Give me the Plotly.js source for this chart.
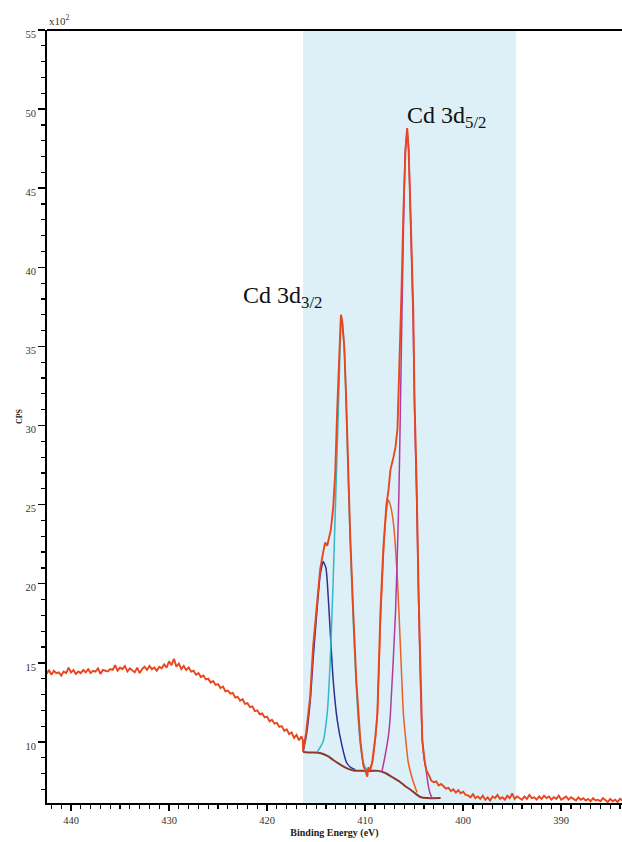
<!DOCTYPE html>
<html>
<head>
<meta charset="utf-8">
<script src="https://cdn.plot.ly/plotly-3.0.1.min.js"></script>
<style>html,body{margin:0;padding:0;background:#fff;}#chart{width:622px;height:842px;}</style>
</head>
<body>
<div id="chart"></div>
<script>
// Binding energy (eV) and counts (x10^2 CPS)
const envelopeX = [
442.50,442.25,442.00,441.75,441.50,441.25,441.00,440.75,440.50,440.25,440.00,439.75,439.50,439.25,439.00,438.75,438.50,438.25,438.00,437.75,
437.50,437.25,437.00,436.75,436.50,436.25,436.00,435.75,435.50,435.25,435.00,434.75,434.50,434.25,434.00,433.75,433.50,433.25,433.00,432.75,
432.50,432.25,432.00,431.75,431.50,431.25,431.00,430.75,430.50,430.25,430.00,429.75,429.50,429.25,429.00,428.75,428.50,428.25,428.00,427.75,
427.50,427.25,427.00,426.75,426.50,426.25,426.00,425.75,425.50,425.25,425.00,424.75,424.50,424.25,424.00,423.75,423.50,423.25,423.00,422.75,
422.50,422.25,422.00,421.75,421.50,421.25,421.00,420.75,420.50,420.25,420.00,419.75,419.50,419.25,419.00,418.75,418.50,418.25,418.00,417.75,
417.50,417.25,417.00,416.75,416.50,416.35,416.33,
416.02,415.61,415.31,414.90,414.59,414.28,414.08,413.87,413.67,413.50,413.26,413.05,412.85,412.64,412.47,412.34,412.13,411.93,411.72,411.52,
411.21,410.90,410.49,410.18,409.98,409.78,409.67,409.47,409.26,408.96,408.75,408.44,408.14,407.83,407.62,407.42,407.11,406.91,406.70,406.50,
406.29,406.09,405.88,405.71,405.57,405.37,405.09,404.96,404.75,404.55,404.34,404.17,403.93,403.75,403.50,403.25,403.00,402.75,402.50,402.25,
402.00,401.75,401.50,401.25,401.00,400.75,400.50,400.25,400.00,399.75,
399.50,399.25,399.00,398.75,398.50,398.25,398.00,397.75,397.50,397.25,397.00,396.75,396.50,396.25,396.00,395.75,395.50,395.25,395.00,394.75,
394.50,394.25,394.00,393.75,393.50,393.25,393.00,392.75,392.50,392.25,392.00,391.75,391.50,391.25,391.00,390.75,390.50,390.25,390.00,389.75,
389.50,389.25,389.00,388.75,388.50,388.25,388.00,387.75,387.50,387.25,387.00,386.75,386.50,386.25,386.00,385.75,385.50,385.25,385.00,384.75,
384.50,384.25,384.00,383.75
];
const envelopeY = [
14.30,14.55,14.25,14.50,14.35,14.40,14.20,14.45,14.35,14.70,14.40,14.55,14.30,14.45,14.35,14.55,14.40,14.60,14.35,14.50,
14.45,14.65,14.30,14.55,14.50,14.45,14.60,14.55,14.85,14.50,14.70,14.60,14.80,14.45,14.65,14.55,14.40,14.70,14.35,14.60,
14.75,14.55,14.80,14.60,14.70,14.50,14.75,14.65,14.90,14.70,15.10,14.85,15.25,14.75,14.95,14.60,14.80,14.55,14.70,14.45,
14.50,14.25,14.35,14.10,14.20,13.95,14.00,13.75,13.85,13.60,13.65,13.40,13.50,13.20,13.25,13.05,13.10,12.80,12.85,12.60,
12.70,12.40,12.45,12.20,12.25,11.95,12.00,11.75,11.80,11.55,11.60,11.30,11.40,11.15,11.20,10.95,11.00,10.70,10.80,10.50,
10.60,10.25,10.45,10.10,10.35,10.10,9.40,
10.6,12.85,16.0,18.8,20.9,22.0,22.6,22.4,22.9,23.4,24.8,27.0,31.0,35.0,37.0,36.6,35.0,31.6,27.0,23.0,
18.2,13.9,10.1,8.5,8.2,7.8,8.4,8.2,8.8,10.3,11.8,18.2,22.3,25.0,25.9,27.2,28.0,28.6,29.8,33.7,
38.5,43.7,47.5,48.8,47.5,43.5,37.3,31.6,26.4,19.5,13.5,10.1,8.8,8.2,7.9,7.55,7.45,7.50,7.25,7.35,
7.20,7.05,7.10,6.90,7.00,6.80,6.95,6.75,6.85,6.65,
6.62,6.50,6.70,6.45,6.55,6.40,6.60,6.35,6.50,6.30,6.55,6.45,6.65,6.40,6.50,6.35,6.60,6.45,6.75,6.40,
6.55,6.45,6.35,6.55,6.40,6.65,6.45,6.50,6.35,6.55,6.40,6.60,6.45,6.55,6.35,6.50,6.40,6.60,6.35,6.45,
6.55,6.35,6.50,6.40,6.30,6.50,6.35,6.45,6.30,6.40,6.25,6.45,6.30,6.35,6.25,6.45,6.30,6.20,6.40,6.25,
6.35,6.20,6.40,6.30
];

const backgroundX = [416.33,415.50,414.60,413.80,413.26,412.60,411.90,411.20,410.50,409.50,408.65,408.00,407.30,406.50,405.90,405.30,404.70,404.30,403.70,402.30];
const backgroundY = [9.37,9.33,9.30,9.10,8.86,8.60,8.35,8.20,8.18,8.17,8.17,8.05,7.80,7.50,7.20,6.95,6.65,6.50,6.45,6.45];

const blueX = [416.33,416.00,415.60,415.30,414.90,414.60,414.28,414.00,413.87,413.57,413.26,412.85,412.34,411.90,411.50,411.00];
const blueY = [9.37,10.4,12.6,15.3,18.4,20.5,21.4,21.0,20.2,17.1,13.9,11.4,9.7,8.7,8.4,8.25];

const cyanX = [414.90,414.30,413.87,413.57,413.26,413.05,412.85,412.64,412.50,412.43,412.30,412.10,411.93,411.72,411.52,411.21,410.90,410.60,410.30,410.00,409.70];
const cyanY = [9.35,10.0,11.8,15.0,20.2,24.5,28.5,33.0,36.2,36.9,36.3,34.5,31.2,26.6,22.6,17.6,13.5,10.6,9.0,8.4,8.2];

const orangeX = [409.60,409.26,408.96,408.75,408.44,408.14,407.83,407.62,407.40,407.11,406.70,406.40,406.10,405.80,405.60,405.10,404.70];
const orangeY = [8.2,8.7,10.2,11.8,17.5,21.8,24.6,25.3,24.9,23.8,20.2,16.0,11.8,9.8,8.7,7.5,6.8];

const magentaX = [408.30,408.00,407.60,407.42,406.90,406.60,406.50,406.30,406.09,405.90,405.71,405.55,405.37,405.10,404.96,404.75,404.55,404.34,404.15,403.90,403.80,403.60,403.40,403.20,403.00];
const magentaY = [8.1,9.0,10.5,11.8,18.2,24.5,27.5,35.0,42.5,47.3,48.6,47.3,43.0,36.5,31.0,25.5,19.0,13.3,10.0,8.6,8.3,7.4,6.8,6.5,6.45];

const xTickLabels = ['440','430','420','410','400','390'];
const xTickVals = [440,430,420,410,400,390];
const yTickVals = [10,15,20,25,30,35,40,45,50,55];
const yTickLabels = ['10','15','20','25','30','35','40','45','50','55'];

const serif = 'Liberation Serif, Times New Roman, serif';

const traces = [
  {x: backgroundX, y: backgroundY, mode: 'lines', line: {color: '#8a3a2c', width: 2, shape: 'spline', smoothing: 0.6}, hoverinfo: 'skip'},
  {x: blueX, y: blueY, mode: 'lines', line: {color: '#2c2f96', width: 1.5, shape: 'spline', smoothing: 0.5}, hoverinfo: 'skip'},
  {x: cyanX, y: cyanY, mode: 'lines', line: {color: '#35b7c5', width: 1.5, shape: 'spline', smoothing: 0.5}, hoverinfo: 'skip'},
  {x: orangeX, y: orangeY, mode: 'lines', line: {color: '#e8602a', width: 1.5, shape: 'spline', smoothing: 0.5}, hoverinfo: 'skip'},
  {x: magentaX, y: magentaY, mode: 'lines', line: {color: '#b33a9c', width: 1.5, shape: 'spline', smoothing: 0.5}, hoverinfo: 'skip'},
  {x: envelopeX, y: envelopeY, mode: 'lines', line: {color: '#e8461e', width: 1.9}, hoverinfo: 'skip'}
];

const layout = {
  width: 622, height: 842,
  margin: {l: 47, r: 0, t: 30, b: 39},
  paper_bgcolor: '#ffffff', plot_bgcolor: '#ffffff',
  showlegend: false,
  xaxis: {
    range: [442.45, 383.8],
    tickmode: 'array', tickvals: xTickVals, ticktext: xTickLabels,
    ticks: 'outside', ticklen: 6, tickwidth: 1.5, tickcolor: '#000',
    minor: {dtick: 1, tick0: 0, ticks: 'outside', ticklen: 4, tickwidth: 1.2, tickcolor: '#000', showgrid: false},
    showline: true, linewidth: 2, linecolor: '#000',
    showgrid: false, zeroline: false,
    tickfont: {family: serif, size: 10.5, color: '#333'},
    title: {text: 'Binding Energy (eV)', font: {family: serif, size: 10, color: '#222', weight: 'bold'}, standoff: 4}
  },
  yaxis: {
    range: [6.14, 55],
    tickmode: 'array', tickvals: yTickVals, ticktext: yTickLabels,
    ticks: 'outside', ticklen: 7, tickwidth: 1.5, tickcolor: '#000',
    minor: {dtick: 1, tick0: 0, ticks: 'outside', ticklen: 4, tickwidth: 1.2, tickcolor: '#000', showgrid: false},
    showline: true, linewidth: 2, linecolor: '#000',
    showgrid: false, zeroline: false,
    ticklabelshift: 4,
    tickfont: {family: serif, size: 10.5, color: '#333'},
    title: {text: 'CPS', font: {family: serif, size: 8, color: '#222', weight: 'bold'}, standoff: 2}
  },
  shapes: [
    {type: 'rect', xref: 'x', yref: 'paper', x0: 416.33, x1: 394.6, y0: 0, y1: 1, fillcolor: '#ddf0f8', line: {width: 0}, layer: 'below'},
    {type: 'line', xref: 'paper', yref: 'paper', x0: 0, x1: 1, y0: 1, y1: 1, line: {color: '#000', width: 2}}
  ],
  annotations: [
    {xref: 'x', yref: 'y', x: 405.9, y: 49.5, xanchor: 'left', yanchor: 'middle', showarrow: false,
     text: 'Cd 3d<sub>5/2</sub>', font: {family: serif, size: 24, color: '#111'}},
    {xref: 'x', yref: 'y', x: 422.7, y: 38.1, xanchor: 'left', yanchor: 'middle', showarrow: false,
     text: 'Cd 3d<sub>3/2</sub>', font: {family: serif, size: 24, color: '#111'}},
    {xref: 'paper', yref: 'paper', x: 0, y: 1.001, xanchor: 'left', yanchor: 'bottom', showarrow: false,
     text: 'x10<sup>2</sup>', font: {family: serif, size: 11, color: '#333'}}
  ]
};

Plotly.newPlot('chart', traces, layout, {staticPlot: true, displayModeBar: false});
</script>
</body>
</html>
